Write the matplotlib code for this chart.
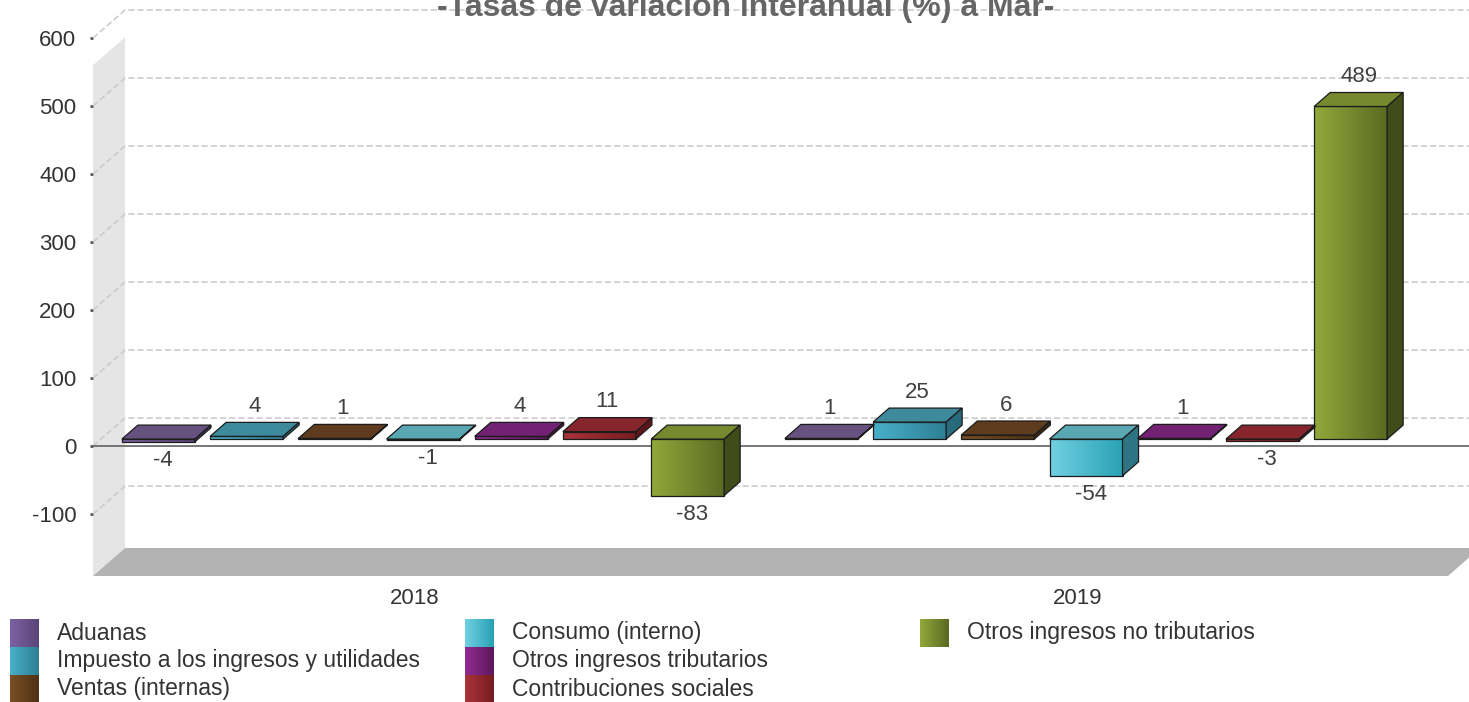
import numpy as np
import matplotlib.pyplot as plt
from matplotlib.patches import Polygon
from matplotlib.colors import LinearSegmentedColormap

plt.rcParams['font.family'] = ['Liberation Sans', 'DejaVu Sans']

# Data
years = ['2018', '2019']
series = ['Aduanas', 'Impuesto a los ingresos y utilidades', 'Ventas (internas)',
          'Consumo (interno)', 'Otros ingresos tributarios', 'Contribuciones sociales',
          'Otros ingresos no tributarios']
aduanas = [-4, 1]
impuesto = [4, 25]
ventas = [1, 6]
consumo = [-1, -54]
otros_trib = [4, 1]
contribuciones = [11, -3]
otros_no_trib = [-83, 489]
values = [aduanas, impuesto, ventas, consumo, otros_trib, contribuciones, otros_no_trib]
yticks = [-100, 0, 100, 200, 300, 400, 500, 600]
title = '-Tasas de variación interanual (%) a Mar-'

# colours: front light, front dark, top, side
colors = [
    ('#7d62a3', '#5a4477', '#67517f', '#4b3a60'),
    ('#48b0ca', '#2e7f94', '#3d8a9d', '#276a7b'),
    ('#7a4f24', '#4f3115', '#5e3c1d', '#3d2611'),
    ('#70d0e1', '#29a1b5', '#58a7b3', '#2d7583'),
    ('#8e2b92', '#5f175b', '#732173', '#4d134b'),
    ('#a93339', '#771c21', '#86252b', '#5c161a'),
    ('#92a83b', '#5a6a22', '#77892f', '#414c1b'),
]

W, H = 1469, 702
fig = plt.figure(figsize=(W / 100, H / 100), dpi=100)
ax = fig.add_axes([93 / W, 1 - 576 / H, (1448 - 93) / W, (576 - 38) / H])
xmin, xmax = -0.4857, 1.558
ymin, ymax = -191, 600
px_x = 663.0                       # pixels per category unit
px_y = (576 - 38) / (ymax - ymin)  # pixels per value unit
DX, DY = 32 / px_x, 28 / px_y      # 3d depth of the plot
bar_w, pitch = 73 / px_x, 88.2 / px_x

# left wall and floor
ax.add_patch(Polygon([(xmin, ymin), (xmin + DX, ymin + DY), (xmin + DX, 560 + DY), (xmin, 560)],
                     closed=True, facecolor='#e5e5e5', edgecolor='none', zorder=0, clip_on=False))
ax.add_patch(Polygon([(xmin, ymin), (xmax, ymin), (xmax + DX, ymin + DY), (xmin + DX, ymin + DY)],
                     closed=True, facecolor='#b3b3b3', edgecolor='none', zorder=1, clip_on=False))

# grid lines at the back, with connectors to the front axis
for t in yticks:
    ax.plot([xmin, xmin + DX, xmax + DX], [t, t + DY, t + DY], color='#c8c8c8', lw=1.1,
            linestyle=(0, (4, 2)), zorder=2, clip_on=False)
ax.plot([xmin, xmax + DX], [0, 0], color='#606060', lw=1.2, zorder=3, clip_on=False)

# bars
n = len(series)
for i in range(n):
    light, dark, top_c, side_c = colors[i]
    cmap = LinearSegmentedColormap.from_list('g%d' % i, [light, dark])
    grad = np.linspace(0, 1, 64).reshape(1, -1)
    for j in range(len(years)):
        v = values[i][j]
        x0 = j + (i - (n - 1) / 2) * pitch - bar_w / 2 + 0.25 * DX
        x1 = x0 + bar_w
        yb = min(0, v) + 0.25 * DY
        yt = max(0, v) + 0.25 * DY
        bx, by = 0.5 * DX, 0.5 * DY
        ec = '#1c1c1c'
        ax.imshow(grad, extent=[x0, x1, yb, yt], aspect='auto', cmap=cmap, zorder=4,
                  interpolation='bilinear')
        ax.add_patch(Polygon([(x0, yb), (x1, yb), (x1, yt), (x0, yt)], closed=True,
                             facecolor='none', edgecolor=ec, lw=0.9, zorder=5))
        ax.add_patch(Polygon([(x0, yt), (x1, yt), (x1 + bx, yt + by), (x0 + bx, yt + by)],
                             closed=True, facecolor=top_c, edgecolor=ec, lw=0.9, zorder=5))
        ax.add_patch(Polygon([(x1, yb), (x1 + bx, yb + by), (x1 + bx, yt + by), (x1, yt)],
                             closed=True, facecolor=side_c, edgecolor=ec, lw=0.9, zorder=5))
        if v >= 0:
            ax.annotate(f'{v}', (x0 + bar_w / 2 + 0.25 * DX, yt + by), xytext=(0, 7.5),
                        textcoords='offset points', ha='center', va='baseline',
                        fontsize=16, color='#404040', zorder=6, annotation_clip=False)
        else:
            ax.annotate(f'{v}', (x0 + bar_w / 2 + 0.15 * DX, yb), xytext=(0, -6),
                        textcoords='offset points', ha='center', va='top',
                        fontsize=16, color='#404040', zorder=6, annotation_clip=False)

ax.set_xlim(xmin, xmax)
ax.set_ylim(ymin, ymax)
ax.set_yticks(yticks)
ax.set_yticklabels([str(t) for t in yticks])
ax.set_xticks(range(len(years)))
ax.set_xticklabels(years)
ax.tick_params(axis='y', length=2, width=2, color='#555555', pad=10, labelsize=16,
               labelcolor='#333333')
ax.tick_params(axis='x', length=0, pad=9, labelsize=16, labelcolor='#333333')
for s in ax.spines.values():
    s.set_visible(False)
ax.patch.set_alpha(0)

# title (partly cut by the top edge, as in the original)
fig.text(746 / W, 1 - 16 / H, title, ha='center', va='baseline', fontsize=23,
         fontweight='bold', color='#666666')

# legend
lg = fig.add_axes([0, 0, 1, 1])
lg.set_xlim(0, W)
lg.set_ylim(H, 0)
lg.axis('off')
col_x = [10, 465, 920]
row_y = [619, 647, 675]
for k, name in enumerate(series):
    cx, ry = col_x[k // 3], row_y[k % 3]
    cmap = LinearSegmentedColormap.from_list('l%d' % k, [colors[k][0], colors[k][1]])
    lg.imshow(np.linspace(0, 1, 32).reshape(1, -1), extent=[cx, cx + 29, ry + 28, ry],
              aspect='auto', cmap=cmap)
    lg.text(cx + 47, ry + 14, name, ha='left', va='center', fontsize=16.5, color='#333333')
lg.set_xlim(0, W)
lg.set_ylim(H, 0)

fig.savefig('out.png', dpi=100)
